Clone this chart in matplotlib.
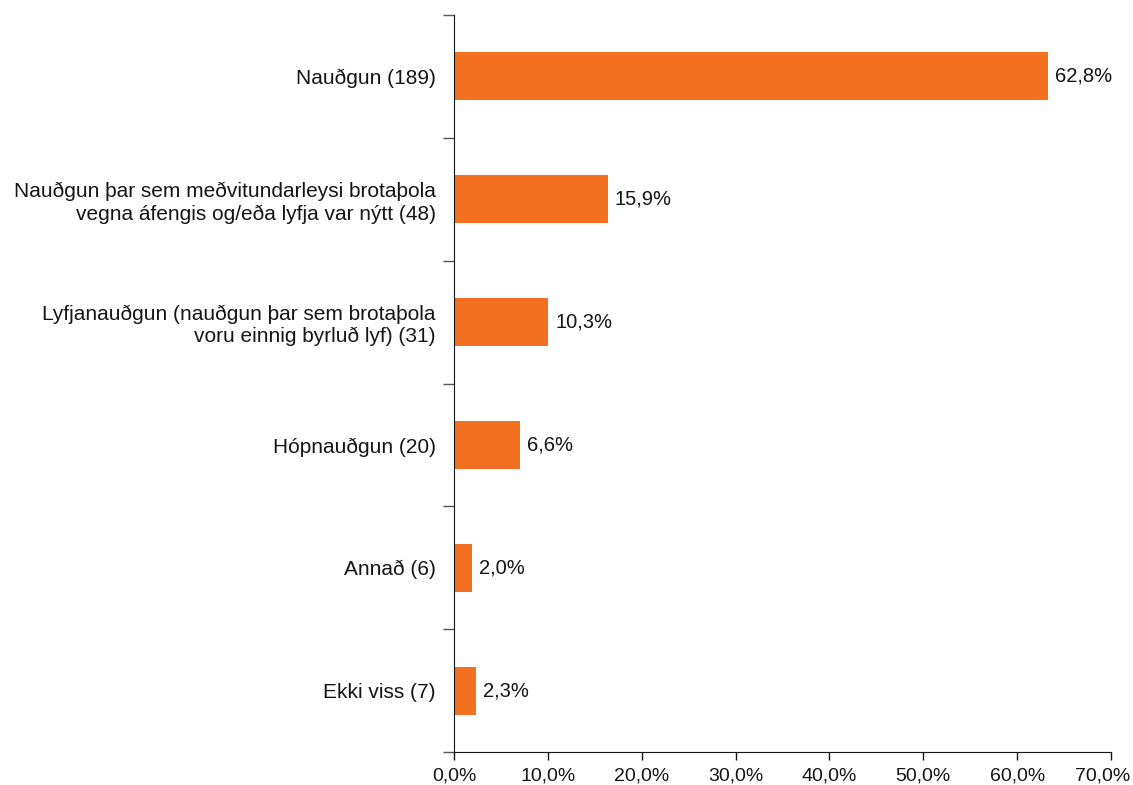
import numpy as np
from matplotlib import pyplot as plt
from matplotlib.ticker import FixedLocator, FuncFormatter
from matplotlib.transforms import ScaledTranslation

categories = [
    'Nauðgun (189)',
    'Nauðgun þar sem meðvitundarleysi brotaþola\nvegna áfengis og/eða lyfja var nýtt (48)',
    'Lyfjanauðgun (nauðgun þar sem brotaþola\nvoru einnig byrluð lyf) (31)',
    'Hópnauðgun (20)',
    'Annað (6)',
    'Ekki viss (7)',
]
# bar lengths as drawn in the picture
bar_values = [63.3, 16.4, 10.05, 7.0, 1.9, 2.35]
# value labels as printed next to the bars
value_labels = ['62,8%', '15,9%', '10,3%', '6,6%', '2,0%', '2,3%']
x_ticks = [0, 10, 20, 30, 40, 50, 60, 70]

plt.rcParams['font.family'] = ['Liberation Sans', 'DejaVu Sans']
text_color = '#151515'

fig = plt.figure(figsize=(11.33, 7.85), dpi=100)
ax = fig.add_axes([454/1133, 1 - 752/785, (1111 - 454)/1133, (752 - 15)/785])

ypos = np.arange(len(categories))
ax.barh(ypos, bar_values, height=0.39, color='#F37021')
for y, v, lab in zip(ypos, bar_values, value_labels):
    ax.annotate(lab, (v, y), xytext=(5, 0), textcoords='offset points',
                va='center', ha='left', fontsize=14.5, color=text_color)

ax.set_xlim(0, 70)
ax.set_ylim(len(categories) - 0.5, -0.5)

ax.xaxis.set_major_locator(FixedLocator(x_ticks))
ax.xaxis.set_major_formatter(FuncFormatter(lambda v, p: f'{v:.1f}%'.replace('.', ',')))
ax.tick_params(axis='x', length=6, width=1, labelsize=14, pad=5, colors=text_color)
# last tick label sits a little left, as in the original
last = ax.xaxis.get_major_ticks()[-1].label1
last.set_transform(last.get_transform() + ScaledTranslation(-8/100, 0, fig.dpi_scale_trans))

ax.set_yticks(ypos)
ax.set_yticklabels(categories, fontsize=15, color=text_color)
ax.tick_params(axis='y', which='major', length=0, pad=13)
ax.yaxis.set_minor_locator(FixedLocator(np.arange(len(categories) + 1) - 0.5))
ax.tick_params(axis='y', which='minor', length=8, width=1, color='#555555')

for s in ['top', 'right']:
    ax.spines[s].set_visible(False)
ax.spines['left'].set_color(text_color)
ax.spines['bottom'].set_color(text_color)

fig.savefig('out.png', dpi=100)
